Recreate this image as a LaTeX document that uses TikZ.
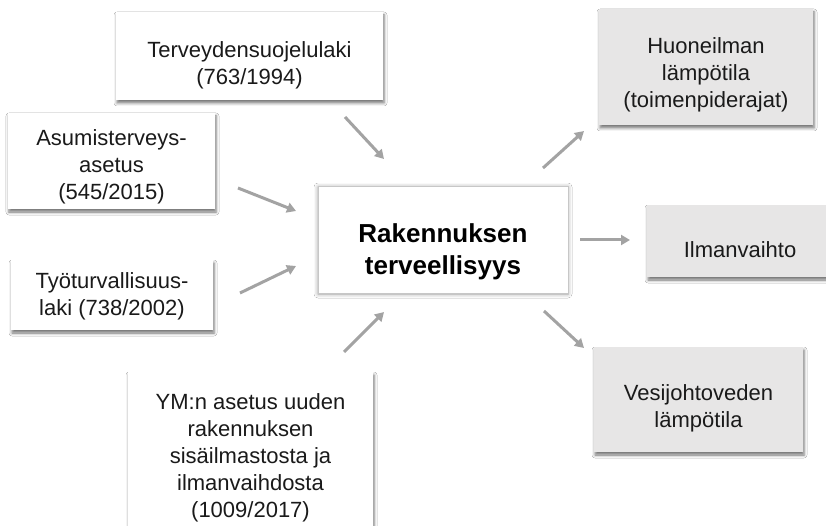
\documentclass[tikz,border=0pt]{standalone}
\usepackage{fontspec}
\setmainfont{Liberation Sans}
\usetikzlibrary{arrows.meta,shadows.blur}
\definecolor{boxgray}{HTML}{E7E6E6}
\definecolor{arrowgray}{HTML}{A3A3A3}
\definecolor{textcol}{HTML}{1A1A1A}
\tikzset{
  box/.style={rectangle, fill=white, inner sep=0pt,
    blur shadow={shadow xshift=1pt, shadow yshift=-3pt, shadow blur radius=3pt, shadow opacity=55}},
  graybox/.style={box, fill=boxgray},
  txt/.style={inner sep=0pt, align=center, font=\fontsize{22}{27}\selectfont, text=textcol},
  centerbox/.style={rectangle, fill=white, draw=black!22, line width=0.8pt, inner sep=0pt,
    blur shadow={shadow xshift=0pt, shadow yshift=-1pt, shadow blur radius=4pt, shadow opacity=40}},
  centertxt/.style={inner sep=0pt, align=center, font=\fontsize{26}{32}\selectfont\bfseries, text=black},
  conn/.style={draw=arrowgray, line width=3pt, -{Triangle[length=9pt,width=10pt]}}
}
\begin{document}
\begin{tikzpicture}[x=1pt,y=-1pt]
\useasboundingbox (0,0) rectangle (826,526);
\clip (0,0) rectangle (826,526);
\fill[white] (0,0) rectangle (826,526);
% sources
\node[box, minimum width=267pt, minimum height=88pt] (tsl) at (249.5,56) {};
\node[txt] (tslT) at ([yshift=-9pt]tsl.center) {Terveydensuojelulaki\\(763/1994)};
\node[box, minimum width=207pt, minimum height=96pt] (asu) at (111.5,161) {};
\node[txt] (asuT) at ([yshift=-6pt]asu.center) {Asumisterveys-\\asetus\\(545/2015)};
\node[box, minimum width=202pt, minimum height=70pt] (tyo) at (112,295) {};
\node[txt] (tyoT) at ([yshift=-1pt]tyo.center) {Työturvallisuus-\\laki (738/2002)};
\node[box, minimum width=245pt, minimum height=172pt] (ym) at (250.5,458) {};
\node[txt] (ymT) at (ym.center) {YM:n asetus uuden\\rakennuksen\\sisäilmastosta ja\\ilmanvaihdosta\\(1009/2017)};
% centre
\node[centerbox, minimum width=250pt, minimum height=107pt] (c) at (443,239.5) {};
\node[centertxt] (cT) at ([yshift=-12pt]c.center) {Rakennuksen\\terveellisyys};
% targets
\node[graybox, minimum width=214pt, minimum height=116pt] (huo) at (706,67) {};
\node[txt] (huoT) at ([yshift=-8pt]huo.center) {Huoneilman\\lämpötila\\(toimenpiderajat)};
\node[graybox, minimum width=186pt, minimum height=72pt] (ilm) at (740,241) {};
\node[txt] (ilmT) at ([yshift=-9pt]ilm.center) {Ilmanvaihto};
\node[graybox, minimum width=209pt, minimum height=105pt] (ves) at (698.5,399.5) {};
\node[txt] (vesT) at ([yshift=-8.5pt]ves.center) {Vesijohtoveden\\lämpötila};
% connector end points
\coordinate (tslA) at (345,117); \coordinate (tslB) at (384,159);
\coordinate (asuA) at (238,188); \coordinate (asuB) at (296,211);
\coordinate (tyoA) at (240,293); \coordinate (tyoB) at (296,266);
\coordinate (ymA) at (344,352); \coordinate (ymB) at (384,312);
\coordinate (huoA) at (543,168); \coordinate (huoB) at (584,131);
\coordinate (ilmA) at (580,240); \coordinate (ilmB) at (630,240);
\coordinate (vesA) at (544,311); \coordinate (vesB) at (584,348);
\draw[conn] (tslA) -- (tslB);
\draw[conn] (asuA) -- (asuB);
\draw[conn] (tyoA) -- (tyoB);
\draw[conn] (ymA) -- (ymB);
\draw[conn] (huoA) -- (huoB);
\draw[conn] (ilmA) -- (ilmB);
\draw[conn] (vesA) -- (vesB);
\end{tikzpicture}
\end{document}
